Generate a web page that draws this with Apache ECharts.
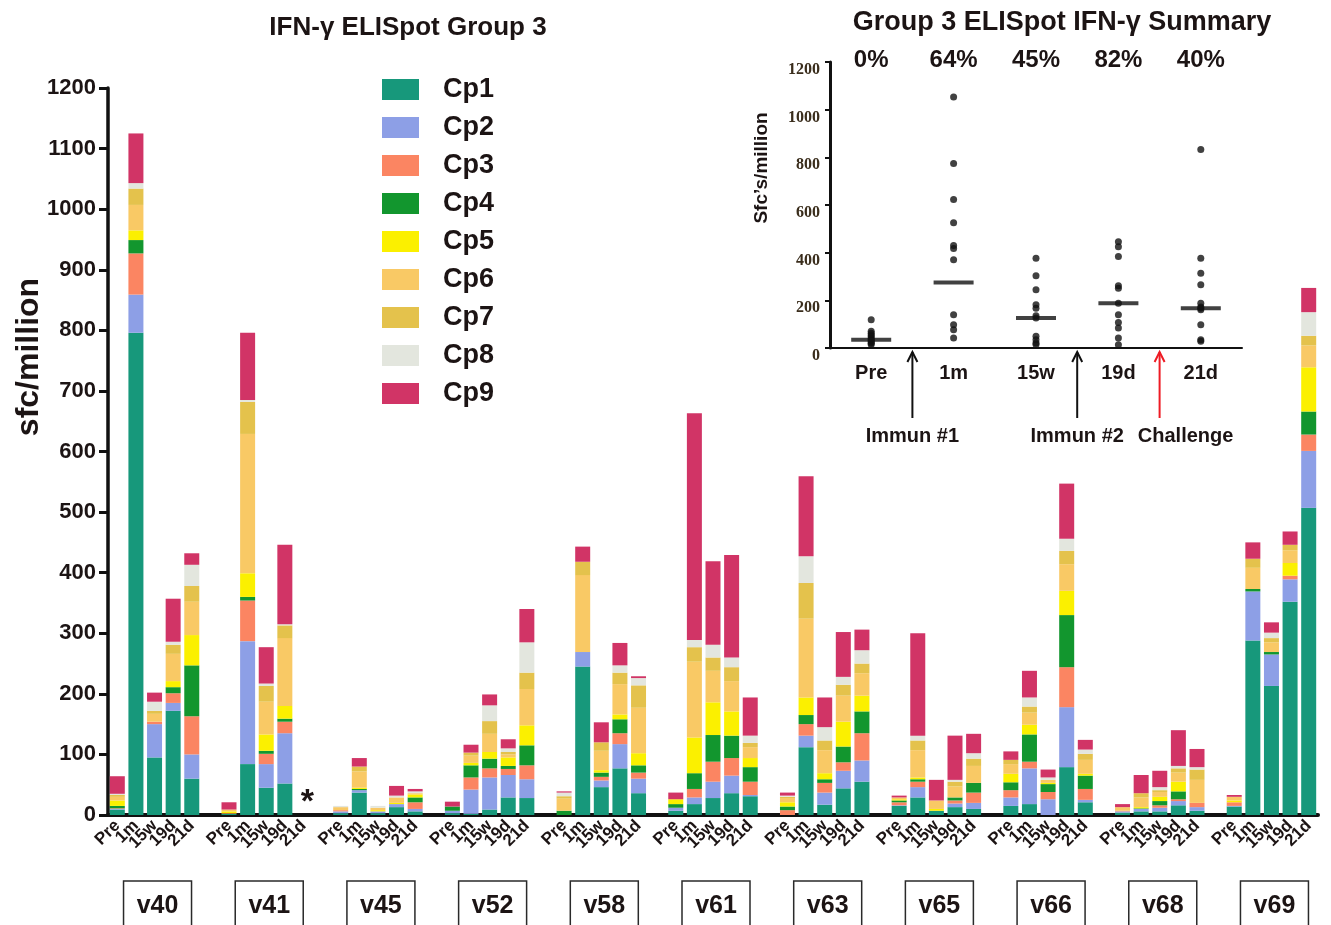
<!DOCTYPE html>
<html>
<head>
<meta charset="utf-8">
<title>IFN-γ ELISpot Group 3</title>
<script src="https://cdn.jsdelivr.net/npm/echarts@6/dist/echarts.min.js"></script>
<style>
  html, body { margin: 0; padding: 0; background: #fff; }
  #chart { width: 1331px; height: 925px; }
</style>
</head>
<body>
<div id="chart"></div>
<script>
// animals and sampling time points (5 bars per animal)
const animals = ['v40', 'v41', 'v45', 'v52', 'v58', 'v61', 'v63', 'v65', 'v66', 'v68', 'v69']
const timepoints = ['Pre', '1m', '15w', '19d', '21d']
const peptides = ['Cp1', 'Cp2', 'Cp3', 'Cp4', 'Cp5', 'Cp6', 'Cp7', 'Cp8', 'Cp9']
const colors = ['#17987b', '#8d9fe6', '#fb8562', '#12962e', '#fbf000', '#f9c965', '#e4c24c', '#e3e6de', '#d13466']
const yTicks = { min: 0, max: 1200, step: 100 }

// sfc/million per peptide pool, animal by animal: Pre, 1m, 15w, 19d, 21d
const cp1 = [9, 796, 95, 172, 60,  2, 84, 45, 52, 0,  3, 37, 3, 13, 6,  3, 2, 9, 29, 28,  0, 245, 46, 77, 36,  7, 18, 28, 36, 31,
  0, 112, 17, 44, 55,  15, 29, 7, 13, 10,  15, 18, 0, 79, 21,  4, 6, 6, 16, 7,  14, 288, 213, 352, 507]
const cp2 = [1, 63, 55, 13, 40,  0, 203, 39, 83, 0,  3, 4, 3, 5, 4,  4, 40, 53, 37, 31,  0, 24, 11, 40, 24,  5, 11, 27, 29, 2,
  0, 19, 20, 29, 35,  1, 17, 0, 6, 10,  14, 59, 26, 99, 4,  2, 4, 6, 7, 6,  1, 81, 52, 37, 94]
const cp3 = [1, 68, 4, 16, 63,  1, 67, 17, 19, 0,  2, 0, 0, 0, 11,  0, 20, 15, 10, 23,  0, 0, 6, 18, 10,  0, 14, 33, 29, 22,
  8, 19, 16, 14, 45,  5, 9, 0, 5, 17,  12, 11, 12, 66, 18,  1, 0, 4, 3, 7,  6, 0, 0, 6, 27]
const cp4 = [4, 22, 0, 10, 84,  0, 6, 5, 5, 0,  0, 2, 0, 0, 8,  7, 20, 16, 5, 33,  7, 0, 7, 23, 12,  6, 26, 44, 37, 24,
  6, 15, 6, 26, 36,  3, 4, 0, 5, 16,  13, 45, 13, 86, 22,  0, 1, 7, 13, 0,  0, 4, 4, 0, 38]
const cp5 = [9, 16, 0, 10, 50,  3, 39, 27, 21, 0,  0, 2, 2, 2, 5,  0, 4, 11, 14, 33,  0, 0, 4, 8, 20,  8, 59, 54, 40, 15,
  7, 29, 10, 41, 26,  2, 3, 3, 0, 0,  14, 16, 2, 40, 3,  0, 2, 7, 16, 0,  3, 0, 0, 21, 73]
const cp6 = [6, 42, 13, 45, 55,  3, 230, 54, 112, 0,  5, 27, 4, 9, 2,  0, 12, 30, 5, 60,  20, 127, 32, 50, 75,  0, 125, 52, 50, 18,
  7, 130, 38, 43, 37,  3, 45, 14, 18, 28,  16, 20, 5, 44, 23,  6, 16, 8, 15, 38,  6, 35, 16, 21, 36]
const cp7 = [3, 27, 5, 15, 26,  0, 53, 26, 21, 0,  0, 8, 0, 0, 0,  0, 5, 21, 4, 27,  4, 22, 14, 19, 37,  0, 24, 22, 23, 7,
  2, 59, 16, 18, 16,  0, 16, 0, 8, 12,  7, 10, 0, 22, 10,  0, 7, 3, 7, 17,  0, 15, 7, 9, 16]
const cp8 = [2, 9, 15, 5, 35,  0, 3, 4, 2, 0,  2, 0, 3, 3, 3,  0, 0, 26, 6, 50,  6, 0, 0, 12, 12,  0, 12, 21, 16, 12,
  2, 44, 22, 13, 22,  0, 8, 0, 3, 9,  0, 15, 4, 20, 7,  0, 0, 5, 4, 4,  0, 0, 9, 0, 39]
const cp9 = [29, 82, 15, 71, 19,  12, 111, 60, 131, 0,  0, 14, 0, 16, 4,  8, 13, 18, 15, 55,  2, 25, 33, 37, 3,  11, 374, 138, 169, 63,
  5, 132, 49, 74, 34,  3, 169, 34, 73, 32,  14, 44, 13, 91, 16,  5, 30, 27, 59, 30,  3, 27, 17, 22, 40]
const cpValues = [cp1, cp2, cp3, cp4, cp5, cp6, cp7, cp8, cp9]

// v41 21d was not tested
const missing = { animal: 'v41', timepoint: '21d', mark: '*' }

// summary inset: one dot per animal, plus the median bar
const summaryPre = [119, 70, 62, 55, 48, 40, 35, 30, 25, 20, 15]
const summary1m = [1053, 774, 623, 526, 430, 418, 370, 139, 98, 77, 42]
const summary15w = [377, 303, 244, 181, 167, 135, 126, 49, 35, 21, 15]
const summary19d = [446, 425, 384, 261, 251, 188, 139, 107, 84, 42, 14]
const summary21d = [833, 377, 314, 265, 188, 172, 167, 160, 98, 35, 28]
const summaryMedians = [35, 275, 126, 188, 167]
const responders = ['0%', '64%', '45%', '82%', '40%']
const summaryTicks = { min: 0, max: 1200, step: 200 }
const events = [
  { text: 'Immun #1', after: 0, color: '#111', shift: 0 },
  { text: 'Immun #2', after: 2, color: '#111', shift: 0 },
  { text: 'Challenge', after: 3, color: '#ee1b24', shift: 26 }
]

const FONT = "'Liberation Sans', Arial, sans-serif"
const INK = '#1c1414'

/**
 * spread animal x time point values onto the category slots,
 * with one empty slot between animals
 */
const slotLabels = []
animals.forEach((a, g) => {
  timepoints.forEach(t => slotLabels.push(t))
  if (g < animals.length - 1) slotLabels.push('')
})
const slotIndex = (g, t) => g * (timepoints.length + 1) + t
const toSlots = arr => {
  const out = slotLabels.map(() => null)
  animals.forEach((a, g) => {
    timepoints.forEach((tp, t) => { out[slotIndex(g, t)] = arr[g * timepoints.length + t] })
  })
  return out
}

const summarySets = [summaryPre, summary1m, summary15w, summary19d, summary21d]
const summaryDots = []
summarySets.forEach((set, i) => set.forEach(v => summaryDots.push([i, v])))

const chart = echarts.init(document.getElementById('chart'))

const barSeries = peptides.map((name, i) => ({
  name,
  type: 'bar',
  stack: 'total',
  xAxisIndex: 0,
  yAxisIndex: 0,
  barWidth: 15,
  itemStyle: { color: colors[i] },
  data: toSlots(cpValues[i])
}))

const plain = v => String(v)

const option = {
  animation: false,
  backgroundColor: '#fff',
  title: [
    {
      text: 'IFN-γ ELISpot Group 3',
      left: 403, top: 10, textAlign: 'center',
      textStyle: { fontFamily: FONT, fontSize: 26, fontWeight: 'bold', color: INK }
    },
    {
      text: 'Group 3 ELISpot IFN-γ Summary',
      left: 1057, top: 4, textAlign: 'center',
      textStyle: { fontFamily: FONT, fontSize: 27, fontWeight: 'bold', color: INK }
    }
  ],
  legend: {
    data: peptides,
    orient: 'vertical',
    left: 377, top: 71,
    icon: 'rect',
    itemWidth: 37, itemHeight: 21, itemGap: 11,
    textStyle: { fontFamily: FONT, fontSize: 27, fontWeight: 'bold', color: INK, padding: [0, 0, 0, 19] }
  },
  grid: [
    { left: 108, right: 13, top: 88, bottom: 110 },
    { left: 830, top: 62, width: 412, height: 286 }
  ],
  xAxis: [
    {
      type: 'category', gridIndex: 0, data: slotLabels,
      axisLine: { lineStyle: { color: '#111', width: 4 } },
      axisTick: { alignWithLabel: true, interval: 0, length: 8, lineStyle: { color: '#111', width: 3 } },
      axisLabel: { interval: 0, rotate: 45, margin: 8, fontFamily: FONT, fontSize: 17, fontWeight: 'bold', color: INK }
    },
    {
      type: 'category', gridIndex: 1, data: timepoints,
      axisLine: { lineStyle: { color: '#111', width: 2 } },
      axisTick: { show: false },
      axisLabel: { margin: 15, fontFamily: FONT, fontSize: 20, fontWeight: 'bold', color: INK }
    },
    {
      type: 'category', gridIndex: 1, position: 'top', offset: -10, data: responders,
      axisLine: { show: false }, axisTick: { show: false },
      axisLabel: { margin: 0, fontFamily: FONT, fontSize: 24, fontWeight: 'bold', color: INK }
    }
  ],
  yAxis: [
    {
      type: 'value', gridIndex: 0,
      min: yTicks.min, max: yTicks.max, interval: yTicks.step,
      splitLine: { show: false },
      axisLine: { show: true, lineStyle: { color: '#111', width: 3.5 } },
      axisTick: { show: true, length: 9, lineStyle: { color: '#111', width: 3 } },
      axisLabel: { formatter: plain, margin: 12, fontFamily: FONT, fontSize: 22, fontWeight: 'bold', color: INK }
    },
    {
      type: 'value', gridIndex: 1,
      min: summaryTicks.min, max: summaryTicks.max, interval: summaryTicks.step,
      splitLine: { show: false },
      axisLine: { show: true, lineStyle: { color: '#111', width: 3 } },
      axisTick: { show: true, length: 5, lineStyle: { color: '#111', width: 2 } },
      axisLabel: {
        formatter: plain, margin: 10, verticalAlign: 'top',
        fontFamily: "'Liberation Serif', 'DejaVu Serif', serif", fontSize: 16, fontWeight: 'bold', color: '#3a2d1c'
      }
    }
  ],
  series: [
    ...barSeries,
    {
      name: 'animals',
      type: 'scatter',
      xAxisIndex: 1, yAxisIndex: 1,
      symbolSize: 7,
      itemStyle: { color: '#111' },
      data: summaryDots
    },
    {
      name: 'median',
      type: 'scatter',
      xAxisIndex: 1, yAxisIndex: 1,
      symbol: 'rect',
      symbolSize: [40, 4],
      itemStyle: { color: '#111' },
      data: summaryMedians.map((v, i) => [i, v])
    }
  ]
}

chart.setOption(option)

/**
 * annotations placed through the axes: animal boxes, missing-sample star,
 * immunisation / challenge arrows and texts
 */
const drawAnnotations = () => {
  const graphics = []
  const slotX = i => chart.convertToPixel({ xAxisIndex: 0 }, i)

  // y-axis names
  graphics.push({
    type: 'text', x: 29, y: 357, rotation: Math.PI / 2,
    style: { text: 'sfc/million', font: `bold 32px ${FONT}`, fill: INK, align: 'center', verticalAlign: 'middle' }
  })
  graphics.push({
    type: 'text', x: 762, y: 168, rotation: Math.PI / 2,
    style: { text: 'Sfc\u2019s/million', font: `bold 19px ${FONT}`, fill: INK, align: 'center', verticalAlign: 'middle' }
  })

  // animal label boxes under each group
  animals.forEach((name, g) => {
    const cx = slotX(slotIndex(g, 2)) + 3
    graphics.push({
      type: 'rect',
      shape: { x: cx - 34, y: 881, width: 68, height: 50 },
      style: { fill: '#fff', stroke: '#2a2a2a', lineWidth: 1.5 }
    })
    graphics.push({
      type: 'text', x: cx, y: 906,
      style: { text: name, font: `bold 25px ${FONT}`, fill: INK, align: 'center', verticalAlign: 'middle' }
    })
  })

  // star for the sample that was not run
  const g = animals.indexOf(missing.animal)
  const t = timepoints.indexOf(missing.timepoint)
  const [sx, sy] = chart.convertToPixel({ xAxisIndex: 0, yAxisIndex: 0 }, [slotIndex(g, t), 20])
  graphics.push({
    type: 'text', x: sx + 4, y: sy,
    style: { text: missing.mark, font: `bold 34px ${FONT}`, fill: INK, align: 'center', verticalAlign: 'middle' }
  })

  // arrows below the summary axis
  const zeroY = chart.convertToPixel({ yAxisIndex: 1 }, 0)
  events.forEach(ev => {
    const ax = (chart.convertToPixel({ xAxisIndex: 1 }, ev.after) + chart.convertToPixel({ xAxisIndex: 1 }, ev.after + 1)) / 2
    graphics.push({
      type: 'line',
      shape: { x1: ax, y1: zeroY + 4, x2: ax, y2: zeroY + 70 },
      style: { stroke: ev.color, lineWidth: 2 }
    })
    graphics.push({
      type: 'polyline',
      shape: { points: [[ax - 5, zeroY + 14], [ax, zeroY + 4], [ax + 5, zeroY + 14]] },
      style: { stroke: ev.color, lineWidth: 2, fill: null }
    })
    graphics.push({
      type: 'text', x: ax + ev.shift, y: zeroY + 88,
      style: { text: ev.text, font: `bold 20px ${FONT}`, fill: INK, align: 'center', verticalAlign: 'middle' }
    })
  })

  chart.setOption({ graphic: graphics })
}

drawAnnotations()
</script>
</body>
</html>
